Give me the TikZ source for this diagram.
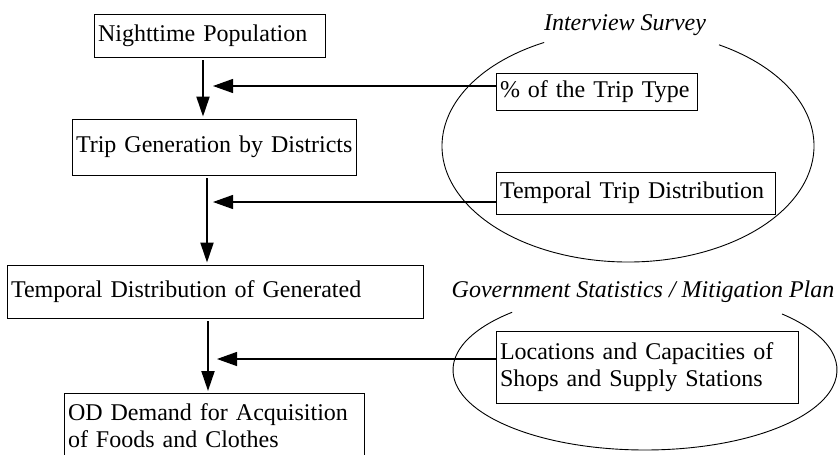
\documentclass[tikz,border=0pt]{standalone}
\usepackage{fontspec}
\setmainfont{Liberation Serif}
\usetikzlibrary{arrows.meta}
\hbadness=10000 \hfuzz=50pt
\begin{document}
\begin{tikzpicture}[x=1pt,y=-1pt,
  box/.style={draw,line width=0.9pt,rectangle,inner xsep=4pt,inner ysep=2pt,align=left,
    font=\fontsize{24}{27}\selectfont},
  lab/.style={font=\fontsize{24}{27}\selectfont\itshape,inner sep=0pt},
  varr/.style={line width=2pt,-{Triangle[length=20pt,width=13pt]},shorten <=3pt,shorten >=2pt},
  harr/.style={line width=1.3pt,-{Triangle[length=20pt,width=14pt]}},
  oval/.style={line width=0.9pt}]
\useasboundingbox (0,0) rectangle (838,455);
\clip (0,0) rectangle (838,455);
% left column
\node[box,minimum width=231pt,text width=223pt,minimum height=43pt] (night) at (209.5,35.5) {\mbox{Nighttime Population}};
\node[box,minimum width=284pt,text width=276pt,minimum height=56pt] (trip) at (214,147) {\mbox{Trip Generation by Districts}};
\node[box,minimum width=416pt,text width=408pt,minimum height=53pt] (tdist) at (215,291.5) {\mbox{Temporal Distribution of Generated}};
\node[box,minimum width=300pt,text width=292pt,minimum height=65pt,anchor=north] (od) at (214,393) {\mbox{OD Demand for Acquisition}\\\mbox{of Foods and Clothes}};
% right column
\node[box,minimum width=201pt,text width=193pt,minimum height=37pt] (pct) at (596.5,91.5) {\mbox{\% of the Trip Type}};
\node[box,minimum width=279pt,text width=271pt,minimum height=42pt] (ttd) at (635.5,193) {\mbox{Temporal Trip Distribution}};
\node[box,minimum width=302pt,text width=294pt,minimum height=72pt] (loc) at (647,367) {\mbox{Locations and Capacities of}\\\mbox{Shops and Supply Stations}};
% ellipses with gaps for labels
\coordinate (c1) at (628,146);
\coordinate (c2) at (645,370);
\draw[oval] ([shift={(116.8:186pt and 116pt)}]c1) arc[start angle=116.8,end angle=420.7,x radius=186pt,y radius=116pt];
\draw[oval] ([shift={(133.8:192pt and 80pt)}]c2) arc[start angle=133.8,end angle=404.5,x radius=192pt,y radius=80pt];
\node[lab] (iv) at (625,25) {Interview Survey};
\node[lab] (gov) at (643,292) {Government Statistics / Mitigation Plan};
% vertical arrows
\coordinate (v1) at (203,0);
\coordinate (v2) at (207,0);
\coordinate (v3) at (208,0);
\draw[varr] (night.south -| v1) -- (trip.north -| v1);
\draw[varr] (trip.south -| v2) -- (tdist.north -| v2);
\draw[varr] (tdist.south -| v3) -- (od.north -| v3);
% horizontal arrows
\coordinate (h1) at (213,86);
\coordinate (h2) at (213,202);
\coordinate (h3) at (217,359);
\draw[harr] (pct.west |- h1) -- (h1);
\draw[harr] (ttd.west |- h2) -- (h2);
\draw[harr] (loc.west |- h3) -- (h3);
\end{tikzpicture}
\end{document}
